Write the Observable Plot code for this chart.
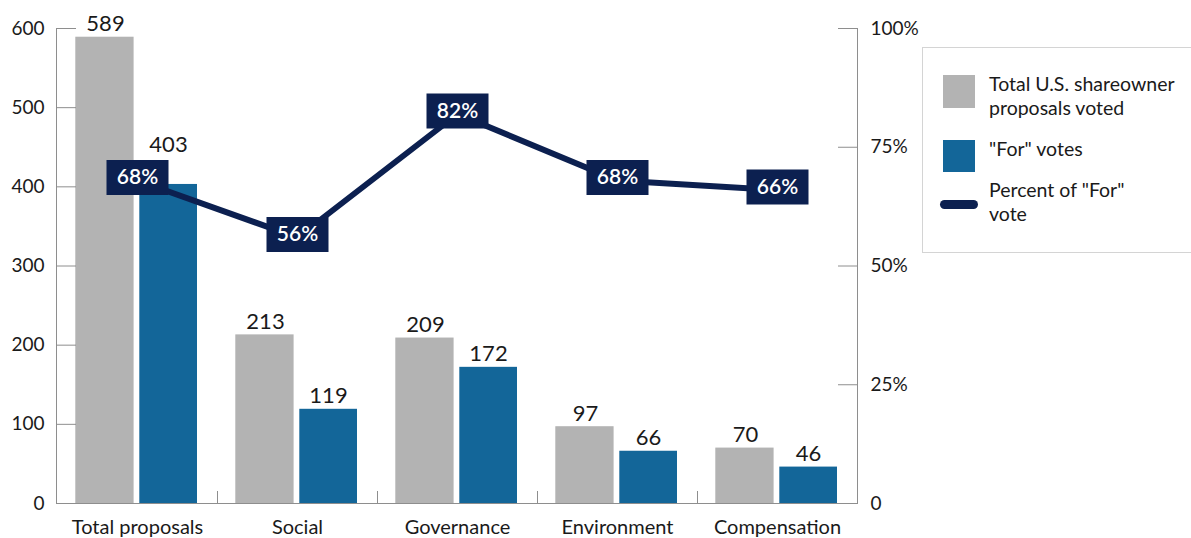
<!DOCTYPE html>
<html><head><meta charset="utf-8">
<script src="https://cdn.jsdelivr.net/npm/d3@7"></script>
<script src="https://cdn.jsdelivr.net/npm/@observablehq/plot@0.6"></script>
<style>
html,body{margin:0;padding:0;background:#fff;overflow:hidden}
#wrap{position:relative;width:1191px;height:538px;font-family:Lato,sans-serif;color:#1a1a1a}
#legend{position:absolute;left:922px;top:47px;width:300px;height:206px;border:1px solid #d4d4d4;box-sizing:border-box}
#legend .sw{position:absolute}
#legend .tx{position:absolute;left:66px;font-size:19.5px;line-height:24px;white-space:nowrap}
</style></head>
<body><div id="wrap"><div id="chart"></div>
<div id="legend">
  <div class="sw" style="left:20px;top:27px;width:32px;height:33px;background:#b3b3b3"></div>
  <div class="tx" style="top:24px">Total U.S. shareowner<br>proposals voted</div>
  <div class="sw" style="left:20px;top:92px;width:32px;height:32px;background:#136699"></div>
  <div class="tx" style="top:89px">"For" votes</div>
  <div class="sw" style="left:17px;top:152px;width:38px;height:9px;border-radius:4.5px;background:#0c2050"></div>
  <div class="tx" style="top:130px">Percent of "For"<br>vote</div>
</div>
</div>
<script>
const categories = ["Total proposals", "Social", "Governance", "Environment", "Compensation"];
const totalVoted = [589, 213, 209, 97, 70];
const forVotes = [403, 119, 172, 66, 46];
const forPercent = [68, 56, 82, 68, 66];
const leftTicks = [0, 100, 200, 300, 400, 500, 600];
const rightTicks = [0, 25, 50, 75, 100];

const rows = categories.map((c, i) => ({category: c, total: totalVoted[i], forV: forVotes[i], pct: forPercent[i]}));
const k = 600 / 100; // percent -> left-axis units
const axisColor = "#8e8e8e";
const navy = "#0c2050";
const boxSymbol = {draw(ctx) { ctx.rect(-31, -17.5, 62, 35); }};

const plot = Plot.plot({
  width: 1191, height: 538,
  marginLeft: 56, marginRight: 334, marginTop: 28, marginBottom: 35,
  style: {fontFamily: "Lato, sans-serif", fontSize: "19px", color: "#1a1a1a", background: "white"},
  x: {domain: categories, padding: 0, axis: null},
  y: {domain: [0, 600], axis: null},
  marks: [
    Plot.barY(rows, {x: "category", y: "total", fill: "#b3b3b3", insetLeft: 18.3, insetRight: 83.4}),
    Plot.barY(rows, {x: "category", y: "forV", fill: "#136699", insetLeft: 82.3, insetRight: 20}),
    Plot.ruleY([0], {stroke: axisColor}),
    Plot.frame({anchor: "left", stroke: axisColor}),
    Plot.frame({anchor: "right", stroke: axisColor}),
    Plot.axisY(leftTicks, {anchor: "left", tickSize: 20, dx: 20, tickFormat: () => "", stroke: axisColor, label: null}),
    Plot.axisY(leftTicks, {anchor: "left", tickSize: 0, tickPadding: 12, fontSize: 19, label: null}),
    Plot.axisY(rightTicks.map(p => p * k), {anchor: "right", tickSize: 20, dx: -20, tickFormat: () => "", stroke: axisColor, label: null}),
    Plot.axisY(rightTicks.map(p => p * k), {anchor: "right", tickSize: 0, tickPadding: 13, fontSize: 19, label: null,
      tickFormat: d => d === 0 ? "0" : (d / k) + "%"}),
    Plot.axisX({anchor: "bottom", tickSize: 12, dy: -12, dx: 80, tickFormat: () => "", stroke: axisColor, label: null}),
    Plot.axisX({anchor: "bottom", tickSize: 0, tickPadding: 16, fontSize: 20, label: null}),
    Plot.text(rows, {x: "category", y: "total", text: d => String(d.total), dx: -32, dy: -6, lineAnchor: "bottom", fontSize: 22, fill: "#1a1a1a"}),
    Plot.text(rows.slice(1), {x: "category", y: "forV", text: d => String(d.forV), dx: 31, dy: -6, lineAnchor: "bottom", fontSize: 22, fill: "#1a1a1a"}),
    Plot.text(rows.slice(0, 1), {x: "category", y: "forV", text: d => String(d.forV), dx: 31, dy: -32, lineAnchor: "bottom", fontSize: 22, fill: "#1a1a1a"}),
    Plot.line(rows, {x: "category", y: d => d.pct * k, stroke: navy, strokeWidth: 6}),
    Plot.dot(rows, {x: "category", y: d => d.pct * k, symbol: boxSymbol, fill: navy, stroke: "none", dy: -3}),
    Plot.text(rows, {x: "category", y: d => d.pct * k, text: d => d.pct + "%", fill: "white", fontSize: 21, fontWeight: 600, dy: -3})
  ]
});
document.getElementById("chart").appendChild(plot);
</script>
</body></html>
